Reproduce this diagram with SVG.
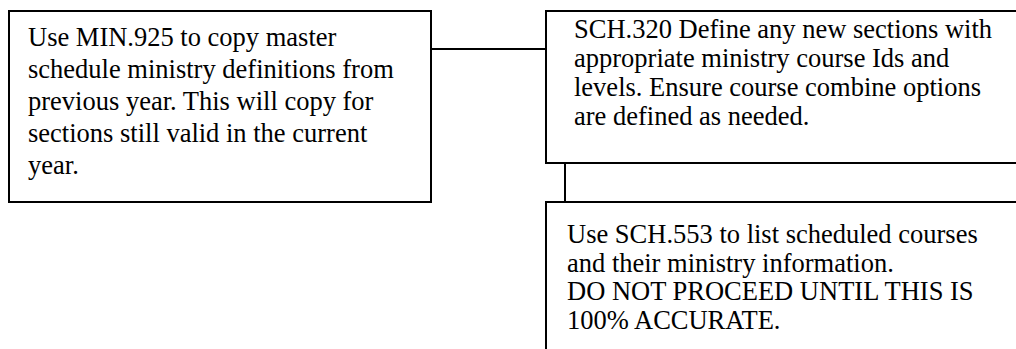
<svg xmlns="http://www.w3.org/2000/svg" width="1016" height="349" viewBox="0 0 1016 349">
<style>
.box{fill:#fff;stroke:#000;stroke-width:2}
.conn{stroke:#000;stroke-width:2;fill:none}
text{font-family:"Liberation Serif","Times New Roman",serif;font-size:26.5px;fill:#000}
</style>
<rect width="1016" height="349" fill="#fff"/>
<g id="connectors">
<line class="conn" x1="431" y1="49" x2="546" y2="49"/>
<line class="conn" x1="565" y1="163" x2="565" y2="202"/>
</g>
<g id="node1">
<rect class="box" x="9" y="11" width="422" height="191"/>
<text x="28" y="46">Use MIN.925 to copy master</text>
<text x="28" y="78">schedule ministry definitions from</text>
<text x="28" y="110">previous year. This will copy for</text>
<text x="28" y="142">sections still valid in the current</text>
<text x="28" y="174">year.</text>
</g>
<g id="node2">
<rect class="box" x="546" y="11" width="480" height="152"/>
<text x="574" y="38">SCH.320 Define any new sections with</text>
<text x="574" y="67">appropriate ministry course Ids and</text>
<text x="574" y="96">levels. Ensure course combine options</text>
<text x="574" y="125">are defined as needed.</text>
</g>
<g id="node3">
<rect class="box" x="546" y="202" width="480" height="160"/>
<text x="567" y="243">Use SCH.553 to list scheduled courses</text>
<text x="567" y="271.5">and their ministry information.</text>
<text x="567" y="300">DO NOT PROCEED UNTIL THIS IS</text>
<text x="567" y="328.5">100% ACCURATE.</text>
</g>
</svg>
